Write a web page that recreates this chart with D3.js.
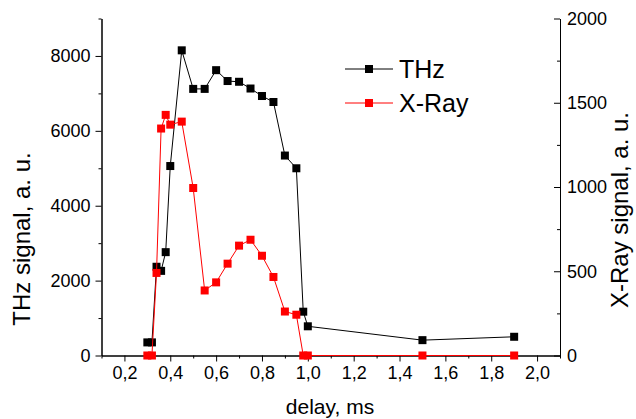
<!DOCTYPE html>
<html>
<head>
<meta charset="utf-8">
<script src="https://cdn.jsdelivr.net/npm/d3@7"></script>
<style>
  body { margin: 0; background: #fff; }
  svg text { font-family: "Liberation Sans", Arial, sans-serif; fill: #000; }
</style>
</head>
<body>
<div id="chart"></div>
<script>
// delay in ms, shared by both series
var delay = [0.30, 0.32, 0.34, 0.36, 0.38, 0.40, 0.45, 0.50, 0.55, 0.60, 0.65, 0.70,
             0.75, 0.80, 0.85, 0.90, 0.95, 0.98, 1.00, 1.50, 1.90];
// THz signal (left axis)
var thz = [350, 350, 2370, 2260, 2760, 5060, 8150, 7120, 7120, 7620, 7330, 7310,
           7130, 6930, 6770, 5340, 5000, 1170, 780, 410, 500];
// X-Ray signal (right axis)
var xray = [0, 0, 490, 1347, 1428, 1370, 1388, 994, 386, 434, 545, 652,
            687, 592, 466, 261, 242, 0, 0, 0, 0];

var xTicks = [0.2, 0.4, 0.6, 0.8, 1.0, 1.2, 1.4, 1.6, 1.8, 2.0];
var yLeftTicks = [0, 2000, 4000, 6000, 8000];
var yRightTicks = [0, 500, 1000, 1500, 2000];

var width = 636, height = 419;
var plotLeft = 101.5, plotRight = 560, plotTop = 18.5, plotBottom = 355.5;

var svg = d3.select("#chart").append("svg")
  .attr("width", width)
  .attr("height", height);

var x = d3.scaleLinear().domain([0.1, 2.1]).range([plotLeft, plotRight]);
var yL = d3.scaleLinear().domain([0, 9000]).range([plotBottom, plotTop]);
var yR = d3.scaleLinear().domain([0, 2000]).range([plotBottom, plotTop]);

var comma = function(d) { return d3.format(".1f")(d).replace(".", ","); };
var plain = d3.format("d");

// bottom axis
svg.append("g")
  .attr("transform", "translate(0," + plotBottom + ")")
  .call(d3.axisBottom(x).tickValues(xTicks).tickFormat(comma).tickSize(6).tickSizeOuter(0).tickPadding(5));
svg.append("g")
  .attr("transform", "translate(0," + plotBottom + ")")
  .call(d3.axisBottom(x).tickValues(d3.range(0.1, 2.15, 0.2)).tickFormat("").tickSize(3).tickSizeOuter(0));

// left axis
svg.append("g")
  .attr("transform", "translate(" + plotLeft + ",0)")
  .call(d3.axisLeft(yL).tickValues(yLeftTicks).tickFormat(plain).tickSize(6).tickSizeOuter(0).tickPadding(5));
svg.append("g")
  .attr("transform", "translate(" + plotLeft + ",0)")
  .call(d3.axisLeft(yL).tickValues([1000, 3000, 5000, 7000, 9000]).tickFormat("").tickSize(3).tickSizeOuter(0));

// right axis, ticks point into the plot
svg.append("g")
  .attr("transform", "translate(" + plotRight + ",0)")
  .call(d3.axisRight(yR).tickValues(yRightTicks).tickFormat(plain).tickSize(-6).tickSizeOuter(0).tickPadding(7));
svg.append("g")
  .attr("transform", "translate(" + plotRight + ",0)")
  .call(d3.axisRight(yR).tickValues([250, 750, 1250, 1750]).tickFormat("").tickSize(-3).tickSizeOuter(0));

svg.selectAll(".domain").attr("stroke", "#000");
svg.selectAll(".tick line").attr("stroke", "#000");
svg.selectAll(".tick text").style("font-size", "18px");

// axis titles
svg.append("text")
  .attr("transform", "translate(30,239) rotate(-90)")
  .attr("text-anchor", "middle")
  .style("font-size", "24px")
  .text("THz signal, a. u.");
svg.append("text")
  .attr("transform", "translate(628,210) rotate(-90)")
  .attr("text-anchor", "middle")
  .style("font-size", "24px")
  .text("X-Ray signal, a. u.");
svg.append("text")
  .attr("x", 330)
  .attr("y", 414)
  .attr("text-anchor", "middle")
  .style("font-size", "21px")
  .text("delay, ms");

// series
var ms = 8;
function drawSeries(values, scale, color) {
  var line = d3.line()
    .x(function(d, i) { return x(delay[i]); })
    .y(function(d) { return scale(d); });
  svg.append("path")
    .datum(values)
    .attr("fill", "none")
    .attr("stroke", color)
    .attr("stroke-width", 1)
    .attr("d", line);
  svg.append("g").selectAll("rect")
    .data(values)
    .enter().append("rect")
      .attr("x", function(d, i) { return x(delay[i]) - ms / 2; })
      .attr("y", function(d) { return scale(d) - ms / 2; })
      .attr("width", ms)
      .attr("height", ms)
      .attr("fill", color);
}
drawSeries(thz, yL, "#000");
drawSeries(xray, yR, "#ff0000");

// legend
var legend = [{name: "THz", color: "#000", y: 69}, {name: "X-Ray", color: "#ff0000", y: 103}];
var lg = svg.append("g").selectAll("g").data(legend).enter().append("g");
lg.append("line")
  .attr("x1", 345).attr("x2", 393)
  .attr("y1", function(d) { return d.y; }).attr("y2", function(d) { return d.y; })
  .attr("stroke", function(d) { return d.color; });
lg.append("rect")
  .attr("x", 369 - ms / 2).attr("y", function(d) { return d.y - ms / 2; })
  .attr("width", ms).attr("height", ms)
  .attr("fill", function(d) { return d.color; });
lg.append("text")
  .attr("x", 399).attr("y", function(d) { return d.y + 9; })
  .style("font-size", "25px")
  .text(function(d) { return d.name; });
</script>
</body>
</html>
